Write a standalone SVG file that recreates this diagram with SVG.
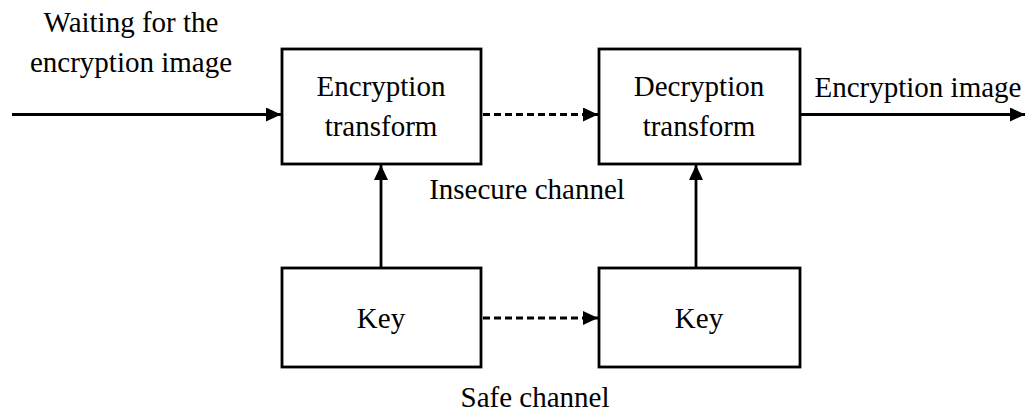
<svg xmlns="http://www.w3.org/2000/svg" width="1026" height="412" viewBox="0 0 1026 412">
  <style>
    .box { fill: #fff; stroke: #000; stroke-width: 2.8; }
    .lbl { font-family: "Liberation Serif", "Times New Roman", serif; font-size: 29px; fill: #000; text-anchor: middle; }
    .wire { stroke: #000; stroke-width: 2.8; fill: none; }
    .dash { stroke-dasharray: 7 4; }
  </style>
  <defs>
    <marker id="arrow" viewBox="0 0 15 14" refX="15" refY="7" markerWidth="15" markerHeight="14" markerUnits="userSpaceOnUse" orient="auto">
      <path d="M0,0 L15,7 L0,14 Z" fill="#000"/>
    </marker>
  </defs>
  <rect width="1026" height="412" fill="#fff"/>

  <g id="connectors">
    <line class="wire" x1="12" y1="114.5" x2="281" y2="114.5" marker-end="url(#arrow)"/>
    <line class="wire dash" x1="483" y1="114.5" x2="598" y2="114.5" marker-end="url(#arrow)"/>
    <line class="wire" x1="801" y1="114.5" x2="1025" y2="114.5" marker-end="url(#arrow)"/>
    <line class="wire" x1="381" y1="267" x2="381" y2="165" marker-end="url(#arrow)"/>
    <line class="wire" x1="696" y1="267" x2="696" y2="165" marker-end="url(#arrow)"/>
    <line class="wire dash" x1="483" y1="318" x2="598" y2="318" marker-end="url(#arrow)"/>
  </g>

  <g id="enc-transform">
    <rect class="box" x="282" y="49" width="199" height="115"/>
    <text class="lbl" x="381" y="96">Encryption</text>
    <text class="lbl" x="381" y="136">transform</text>
  </g>

  <g id="dec-transform">
    <rect class="box" x="599" y="49" width="201" height="115"/>
    <text class="lbl" x="699" y="96">Decryption</text>
    <text class="lbl" x="699" y="136">transform</text>
  </g>

  <g id="key-enc">
    <rect class="box" x="282" y="268" width="199" height="99"/>
    <text class="lbl" x="381" y="328">Key</text>
  </g>

  <g id="key-dec">
    <rect class="box" x="599" y="268" width="201" height="99"/>
    <text class="lbl" x="699" y="328">Key</text>
  </g>

  <g id="labels">
    <text class="lbl" x="131" y="32">Waiting for the</text>
    <text class="lbl" x="131" y="72">encryption image</text>
    <text class="lbl" x="918" y="97">Encryption image</text>
    <text class="lbl" x="527" y="199">Insecure channel</text>
    <text class="lbl" x="535" y="407">Safe channel</text>
  </g>
</svg>
